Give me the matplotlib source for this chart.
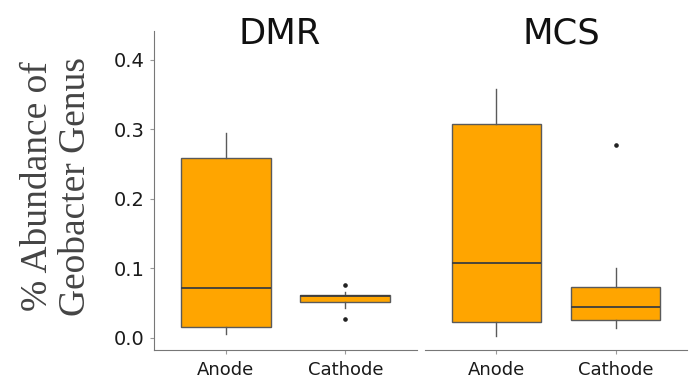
import matplotlib
matplotlib.use('Agg')
import matplotlib.pyplot as plt

# values
panels = ['DMR', 'MCS']
groups = ['Anode', 'Cathode']

dmr_q1 = [0.0154, 0.0522]
dmr_med = [0.0715, 0.0604]
dmr_q3 = [0.2585, 0.0619]
dmr_lo = [0.0058, 0.0427]
dmr_hi = [0.2954, 0.0666]
dmr_out = [[], [0.0767, 0.0273]]

mcs_q1 = [0.0230, 0.0255]
mcs_med = [0.1080, 0.0446]
mcs_q3 = [0.3080, 0.0734]
mcs_lo = [0.0029, 0.0140]
mcs_hi = [0.3587, 0.1003]
mcs_out = [[], [0.2773]]

yticks = [0.0, 0.1, 0.2, 0.3, 0.4]

plt.rcParams['font.family'] = ['DejaVu Sans']

fig = plt.figure(figsize=(6.92, 3.84), dpi=100)
ax1 = fig.add_axes([154 / 692, 1 - 350 / 384, 263 / 692, 319 / 384])
ax2 = fig.add_axes([425 / 692, 1 - 350 / 384, 262 / 692, 319 / 384])


def make_stats(q1, med, q3, lo, hi, out):
    st = []
    for i in range(len(groups)):
        st.append({'q1': q1[i], 'med': med[i], 'q3': q3[i],
                   'whislo': lo[i], 'whishi': hi[i], 'fliers': out[i],
                   'label': groups[i]})
    return st


stats = [make_stats(dmr_q1, dmr_med, dmr_q3, dmr_lo, dmr_hi, dmr_out),
         make_stats(mcs_q1, mcs_med, mcs_q3, mcs_lo, mcs_hi, mcs_out)]

edge = '#5a5a5a'
for ax, st, name in zip([ax1, ax2], stats, panels):
    ax.bxp(st, positions=[1, 2], widths=0.75, patch_artist=True,
           showcaps=False,
           boxprops=dict(facecolor='#FFA500', edgecolor=edge, linewidth=1.0),
           medianprops=dict(color='#3d3d3d', linewidth=1.3),
           whiskerprops=dict(color=edge, linewidth=1.0),
           flierprops=dict(marker='o', markersize=2.3, markerfacecolor='#222222',
                           markeredgecolor='#222222'))
    ax.set_xlim(0.4, 2.6)
    ax.set_ylim(-0.0173, 0.4417)
    for s in ['top', 'right']:
        ax.spines[s].set_visible(False)
    ax.spines['bottom'].set_color('#777777')
    ax.spines['left'].set_color('#777777')
    ax.tick_params(axis='x', colors='#999999', length=3, width=0.8, labelsize=13,
                   labelcolor='#1a1a1a', pad=5)
    ax.tick_params(axis='y', colors='#999999', length=3, width=0.8, labelsize=14,
                   labelcolor='#1a1a1a', pad=4)
    ax.set_xticks([1, 2])
    ax.set_xticklabels(groups)
    ax.set_yticks(yticks)
    ax.set_yticklabels([f'{v:.1f}' for v in yticks])
    ax.patch.set_alpha(0)

ax2.spines['left'].set_visible(False)
ax2.tick_params(axis='y', left=False, labelleft=False)

fig.text(280 / 692, 1 - 34 / 384, 'DMR', fontsize=25.5, ha='center', va='center',
         color='#111111')
fig.text(561 / 692, 1 - 34 / 384, 'MCS', fontsize=25.5, ha='center', va='center',
         color='#111111')

fig.text(57 / 692, 1 - 186 / 384, '% Abundance of\nGeobacter Genus', rotation=90,
         ha='center', va='center', fontsize=27, family='Liberation Serif',
         color='#444444', linespacing=1.15)

fig.savefig('out.png', dpi=100)
